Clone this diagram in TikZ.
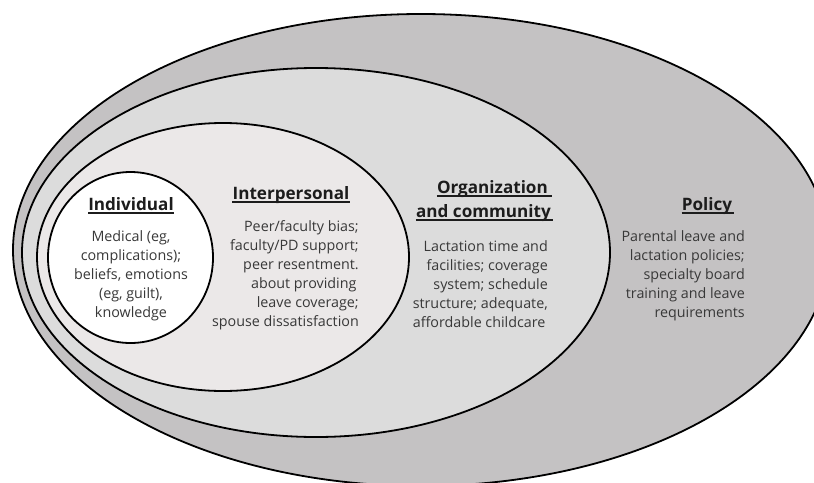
\documentclass[tikz,border=0pt]{standalone}
\usepackage{fontspec}
\setmainfont{Open Sans}
\definecolor{policyfill}{HTML}{C4C2C3}
\definecolor{orgfill}{HTML}{DCDCDC}
\definecolor{interfill}{HTML}{EBE8E8}
\definecolor{bodytext}{HTML}{383838}
\definecolor{headtext}{HTML}{1C1C1C}
\tikzset{
  ring/.style={draw=black, line width=1.8pt},
  heading/.style={inner sep=0pt, text=headtext, font=\fontsize{17.1}{24}\selectfont\bfseries},
  bodytxt/.style={inner sep=0pt, text=bodytext, font=\fontsize{14.3}{19}\selectfont},
  underbar/.style={draw=headtext, line width=1.1pt},
}
\begin{document}
\begin{tikzpicture}[x=1pt, y=-1pt]
  \fill[white] (0,0) rectangle (814,482);
  \useasboundingbox (0,0) rectangle (814,482);
  \clip (0,0) rectangle (814,482);

  % nested levels, outermost first
  \draw[ring, fill=policyfill] (421,250) ellipse [x radius=408, y radius=236];
  \draw[ring, fill=orgfill]    (316,252.5) ellipse [x radius=294, y radius=184.5];
  \draw[ring, fill=interfill]  (223,257) ellipse [x radius=186, y radius=134];
  \draw[ring, fill=white]      (130.5,257.5) ellipse [x radius=82.5, y radius=85.5];

  % level titles
  \node[heading] (indT) at (131,204) {Individual};
  \node[heading] (intT) at (291,195) {Interpersonal};
  \node[heading, anchor=east] (orgT1) at (548,189) {Organization};
  \node[heading, anchor=east] (orgT2) at (551,213) {and community};
  \node[heading] (polT) at (707,206) {Policy};

  % title underlines
  \foreach \t/\extra in {indT/0pt, intT/0pt, orgT1/4pt, orgT2/1.5pt, polT/1.5pt}
    \draw[underbar] ([yshift=-2.6pt]\t.base west) -- ([yshift=-2.6pt, xshift=\extra]\t.base east);

  % level contents
  \node[bodytxt, align=center] (indB) at (131,275.5)
    {Medical (eg,\\complications);\\beliefs, emotions\\(eg, guilt),\\knowledge};
  \node[bodytxt, align=right, anchor=east] (intB) at (359,275.5)
    {Peer/faculty bias;\\faculty/PD support;\\peer resentment.\\about providing\,\\leave coverage;\\spouse dissatisfaction};
  \node[bodytxt, align=right, anchor=east] (orgB) at (548,284)
    {Lactation time and\\facilities; coverage\\system; schedule\\structure; adequate,\\affordable childcare\,};
  \node[bodytxt, align=right, anchor=east] (polB) at (745,276)
    {Parental leave and\\lactation policies;\\specialty board\\training and leave\\requirements};
\end{tikzpicture}
\end{document}
